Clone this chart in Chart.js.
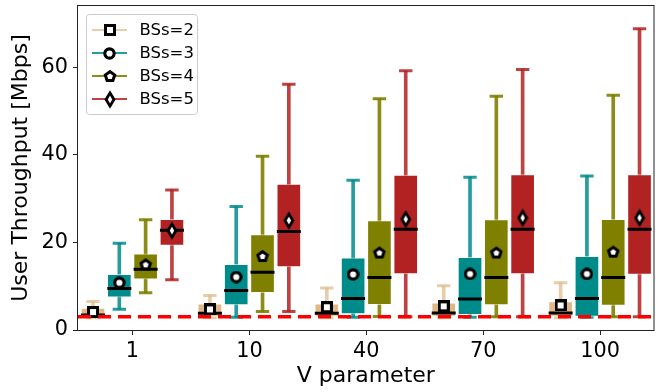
<!DOCTYPE html>
<html><head><meta charset="utf-8">
<script src="https://cdn.jsdelivr.net/npm/chart.js@4.4.1/dist/chart.umd.min.js"></script>
<style>html,body{margin:0;padding:0;background:#fff;}#wrap{width:672px;height:392px;}</style>
</head><body><div id="wrap"><canvas id="c" width="672" height="392"></canvas></div>
<script>
// ---- data ----
const categories = ['1', '10', '40', '70', '100'];
const seriesNames = ['BSs=2', 'BSs=3', 'BSs=4', 'BSs=5'];
const yTicks = [0, 20, 40, 60];
const thresholdY = 3.0;

const bs2Low  = [2.8, 2.8, 2.8, 2.8, 2.8];
const bs2Q1   = [3.0, 3.1, 3.1, 3.1, 3.1];
const bs2Med  = [3.4, 3.8, 3.8, 3.9, 3.9];
const bs2Q3   = [5.0, 6.0, 6.0, 6.2, 6.5];
const bs2High = [6.5, 7.9, 9.6, 10.1, 10.8];
const bs2Mean = [4.1, 4.7, 5.2, 5.4, 5.6];

const bs3Low  = [4.75, 2.9, 2.9, 2.9, 2.9];
const bs3Q1   = [7.5, 5.7, 3.7, 3.5, 3.1];
const bs3Med  = [9.5, 9.0, 7.2, 7.1, 7.2];
const bs3Q3   = [12.7, 15.0, 16.5, 16.6, 16.8];
const bs3High = [19.8, 28.2, 34.2, 34.9, 35.2];
const bs3Mean = [10.8, 12.1, 12.7, 12.8, 12.8];

const bs4Low  = [8.5, 4.2, 3.1, 3.0, 3.0];
const bs4Q1   = [11.6, 8.5, 5.8, 5.7, 5.6];
const bs4Med  = [13.9, 13.2, 12.0, 12.0, 12.0];
const bs4Q3   = [17.4, 21.8, 25.0, 25.2, 25.3];
const bs4High = [25.2, 39.7, 52.8, 53.4, 53.6];
const bs4Mean = [15.0, 16.9, 17.7, 17.7, 17.9];

const bs5Low  = [11.5, 4.2, 3.0, 3.0, 3.0];
const bs5Q1   = [19.3, 14.4, 12.8, 12.8, 12.7];
const bs5Med  = [22.8, 22.5, 23.0, 23.0, 23.0];
const bs5Q3   = [25.3, 33.3, 35.4, 35.5, 35.5];
const bs5High = [32.0, 56.1, 59.2, 59.5, 68.8];
const bs5Mean = [22.7, 25.0, 25.3, 25.6, 25.6];

// ---- styles ----
const boxColors = ['#DEB887', '#008B8B', '#808000', '#B22222'];
const whiskerColors = ['rgba(222,184,135,0.7)', 'rgba(0,139,139,0.85)', 'rgba(128,128,0,0.9)', 'rgba(178,34,34,0.85)'];
const offsets = [-0.3375, -0.1125, 0.1125, 0.3375];
const X_MIN = -0.466, X_MAX = 4.457;
const FONT = '"DejaVu Sans", "Liberation Sans", sans-serif';

function makeMarker(kind) {
  const c = document.createElement('canvas');
  let ctx;
  if (kind === 'square') {
    c.width = 12; c.height = 12; ctx = c.getContext('2d');
    ctx.fillStyle = '#000'; ctx.fillRect(0, 0, 12, 12);
    ctx.fillStyle = '#fff'; ctx.fillRect(3, 3, 6, 6);
  } else if (kind === 'circle') {
    c.width = 13; c.height = 13; ctx = c.getContext('2d');
    ctx.fillStyle = '#000'; ctx.beginPath(); ctx.arc(6.5, 6.5, 6.2, 0, Math.PI * 2); ctx.fill();
    ctx.fillStyle = '#fff'; ctx.beginPath(); ctx.arc(6.5, 6.5, 3.1, 0, Math.PI * 2); ctx.fill();
  } else if (kind === 'pentagon') {
    c.width = 14; c.height = 14; ctx = c.getContext('2d');
    const poly = (r) => { ctx.beginPath(); for (let i = 0; i < 5; i++) { const a = -Math.PI / 2 + i * 2 * Math.PI / 5; const px = 7 + r * Math.cos(a), py = 7.5 + r * Math.sin(a); i ? ctx.lineTo(px, py) : ctx.moveTo(px, py); } ctx.closePath(); ctx.fill(); };
    ctx.fillStyle = '#000'; poly(6.8);
    ctx.fillStyle = '#fff'; poly(3.1);
  } else {
    c.width = 12; c.height = 19; ctx = c.getContext('2d');
    ctx.fillStyle = '#000'; ctx.beginPath(); ctx.moveTo(6, 0.3); ctx.lineTo(11.6, 9.5); ctx.lineTo(6, 18.7); ctx.lineTo(0.4, 9.5); ctx.closePath(); ctx.fill();
    ctx.fillStyle = '#fff'; ctx.beginPath(); ctx.moveTo(6, 5.6); ctx.lineTo(8.2, 9.5); ctx.lineTo(6, 13.4); ctx.lineTo(3.8, 9.5); ctx.closePath(); ctx.fill();
  }
  return c;
}
const markers = [makeMarker('square'), makeMarker('circle'), makeMarker('pentagon'), makeMarker('diamond')];

const stats = [
  {low: bs2Low, q1: bs2Q1, med: bs2Med, q3: bs2Q3, high: bs2High, mean: bs2Mean},
  {low: bs3Low, q1: bs3Q1, med: bs3Med, q3: bs3Q3, high: bs3High, mean: bs3Mean},
  {low: bs4Low, q1: bs4Q1, med: bs4Med, q3: bs4Q3, high: bs4High, mean: bs4Mean},
  {low: bs5Low, q1: bs5Q1, med: bs5Med, q3: bs5Q3, high: bs5High, mean: bs5Mean},
];

const datasets = [];
stats.forEach((s, k) => {
  const xs = categories.map((_, i) => i + offsets[k]);
  datasets.push({
    type: 'bar', label: seriesNames[k] + ' whisker', order: 50,
    data: xs.map((x, i) => ({x, y: [s.low[i], s.high[i]]})),
    backgroundColor: whiskerColors[k], borderWidth: 0,
    maxBarThickness: 3, barPercentage: 1, categoryPercentage: 1, grouped: false
  });
  datasets.push({
    type: 'scatter', label: seriesNames[k] + ' caps', order: 40,
    data: xs.flatMap((x, i) => [{x, y: s.low[i]}, {x, y: s.high[i]}]),
    pointStyle: 'line', pointRadius: 6.7, pointBorderWidth: 3,
    pointBorderColor: whiskerColors[k], pointBackgroundColor: whiskerColors[k]
  });
  datasets.push({
    type: 'bar', label: seriesNames[k], order: 30,
    data: xs.map((x, i) => ({x, y: [s.q1[i], s.q3[i]]})),
    backgroundColor: boxColors[k], borderColor: 'rgba(255,255,255,0.55)', borderWidth: 1,
    borderSkipped: false, maxBarThickness: 24, barPercentage: 1, categoryPercentage: 1, grouped: false
  });
  datasets.push({
    type: 'scatter', label: seriesNames[k] + ' median', order: 20,
    data: xs.map((x, i) => ({x, y: s.med[i]})),
    pointStyle: 'line', pointRadius: 12, pointBorderWidth: 3,
    pointBorderColor: '#000', pointBackgroundColor: '#000'
  });
  datasets.push({
    type: 'scatter', label: seriesNames[k] + ' mean', order: 10,
    data: xs.map((x, i) => ({x, y: s.mean[i]})),
    pointStyle: markers[k], pointRadius: 6
  });
});
datasets.push({
  type: 'line', label: 'threshold', order: 0,
  data: [{x: X_MIN, y: thresholdY}, {x: X_MAX, y: thresholdY}],
  borderColor: '#ff0000', borderWidth: 3.5, borderDash: [13, 7], pointRadius: 0, fill: false
});

const framePlugin = {
  id: 'frame',
  afterDatasetsDraw(chart) {
    const {ctx, chartArea: a} = chart;
    ctx.save();
    ctx.strokeStyle = '#222'; ctx.lineWidth = 1;
    ctx.strokeRect(a.left - 0.5, a.top - 0.5, a.right - a.left + 1, a.bottom - a.top + 1);
    ctx.restore();
  }
};

const legendPlugin = {
  id: 'boxLegend',
  afterDraw(chart) {
    const ctx = chart.ctx;
    ctx.save();
    const x0 = 86.5, y0 = 14.5, w = 111, h = 100, r = 3;
    ctx.beginPath();
    ctx.roundRect(x0, y0, w, h, r);
    ctx.fillStyle = 'rgba(255,255,255,0.8)'; ctx.fill();
    ctx.strokeStyle = '#cccccc'; ctx.lineWidth = 1; ctx.stroke();
    ctx.font = '16.5px ' + FONT;
    ctx.textBaseline = 'middle'; ctx.textAlign = 'left';
    seriesNames.forEach((name, k) => {
      const y = 30 + k * 23.0;
      ctx.strokeStyle = whiskerColors[k]; ctx.lineWidth = 2;
      ctx.beginPath(); ctx.moveTo(92, y); ctx.lineTo(127, y); ctx.stroke();
      const m = markers[k];
      ctx.drawImage(m, Math.round(109.5 - m.width / 2), Math.round(y - m.height / 2));
      ctx.fillStyle = '#000';
      ctx.fillText(name, 139.5, y + 1);
    });
    ctx.restore();
  }
};

new Chart(document.getElementById('c'), {
  type: 'bar',
  data: {datasets},
  plugins: [framePlugin, legendPlugin],
  options: {
    responsive: false, animation: false, events: [], devicePixelRatio: 1,
    layout: {autoPadding: false, padding: {left: 0, right: 18.5, top: 6, bottom: 0}},
    plugins: {legend: {display: false}, tooltip: {enabled: false}},
    scales: {
      x: {
        type: 'linear', min: X_MIN, max: X_MAX, offset: false,
        afterBuildTicks: (sc) => { sc.ticks = categories.map((_, i) => ({value: i})); },
        afterFit: (sc) => { sc.height = 62; sc.paddingLeft = 0; sc.paddingRight = 0; },
        ticks: {callback: (v) => categories[v], font: {family: FONT, size: 20.8}, color: '#000', padding: 4, maxRotation: 0, autoSkip: false},
        grid: {display: true, offset: false, drawOnChartArea: false, drawTicks: true, tickLength: 5, tickColor: '#222', tickWidth: 1},
        border: {display: false},
        title: {display: true, text: 'V parameter', font: {family: FONT, size: 22}, color: '#000', padding: {top: 0, bottom: 3}}
      },
      y: {
        type: 'linear', min: 0, max: 74,
        afterBuildTicks: (sc) => { sc.ticks = yTicks.map(v => ({value: v})); },
        afterFit: (sc) => { sc.width = 78; sc.paddingTop = 0; sc.paddingBottom = 0; },
        ticks: {font: {family: FONT, size: 20.8}, color: '#000', padding: 5},
        grid: {display: true, drawOnChartArea: false, drawTicks: true, tickLength: 5, tickColor: '#222', tickWidth: 1},
        border: {display: false},
        title: {display: true, text: 'User Throughput [Mbps]', font: {family: FONT, size: 22}, color: '#000', padding: {top: 8, bottom: 0}}
      }
    }
  }
});
</script></body></html>
